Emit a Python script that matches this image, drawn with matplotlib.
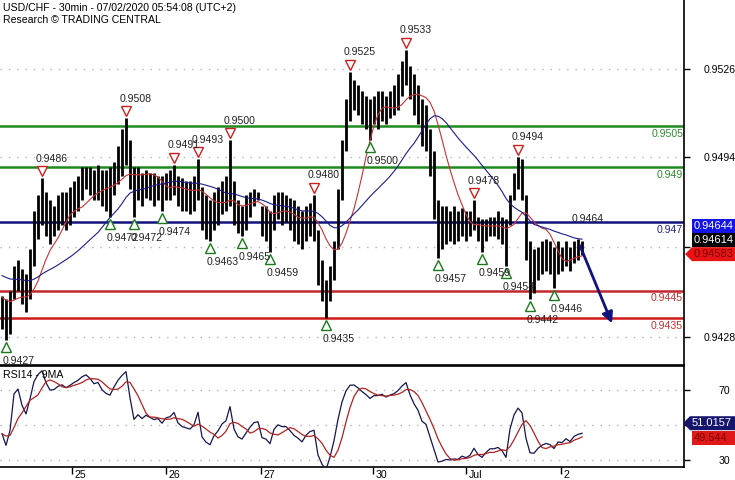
import numpy as np
import pandas as pd
import matplotlib
matplotlib.use("Agg")
import matplotlib.pyplot as plt
import matplotlib.transforms as mtrans
from matplotlib.patches import Polygon

plt.rcParams['font.family'] = ['Liberation Sans', 'DejaVu Sans']

# ---------------- data (hourly bars) ----------------
high = [0.9443, 0.9442, 0.9445, 0.9454, 0.9456, 0.9453, 0.9451, 0.9460, 0.9474, 0.9480,
        0.9486, 0.9481, 0.9478, 0.9476, 0.9480, 0.9481, 0.9481, 0.9483, 0.9485, 0.9487,
        0.9490, 0.9490, 0.9490, 0.9489, 0.9491, 0.9489, 0.9489, 0.9490, 0.9492, 0.9498,
        0.9504, 0.9508, 0.9500, 0.9490, 0.9490, 0.9488, 0.9489, 0.9488, 0.9488, 0.9487,
        0.9487, 0.9488, 0.9489, 0.9491, 0.9487, 0.9486, 0.9485, 0.9485, 0.9487, 0.9493,
        0.9483, 0.9480, 0.9478, 0.9481, 0.9483, 0.9485, 0.9487, 0.9500, 0.9485, 0.9478,
        0.9476, 0.9480, 0.9481, 0.9482, 0.9481, 0.9476, 0.9476, 0.9474, 0.9480, 0.9481,
        0.9481, 0.9480, 0.9479, 0.9478, 0.9476, 0.9474, 0.9476, 0.9477, 0.9480, 0.9467,
        0.9456, 0.9449, 0.9454, 0.9463, 0.9482, 0.9500, 0.9515, 0.9525, 0.9522, 0.9520,
        0.9518, 0.9516, 0.9515, 0.9516, 0.9518, 0.9518, 0.9516, 0.9518, 0.9520, 0.9524,
        0.9529, 0.9533, 0.9527, 0.9524, 0.9520, 0.9515, 0.9513, 0.9504, 0.9496, 0.9478,
        0.9476, 0.9476, 0.9474, 0.9476, 0.9474, 0.9475, 0.9474, 0.9474, 0.9478, 0.9472,
        0.9471, 0.9471, 0.9472, 0.9472, 0.9474, 0.9472, 0.9471, 0.9480, 0.9488, 0.9494,
        0.9493, 0.9480, 0.9463, 0.9460, 0.9461, 0.9463, 0.9464, 0.9463, 0.9461, 0.9463,
        0.9461, 0.9463, 0.9461, 0.9463, 0.9464, 0.9463]
low = [0.9431, 0.9427, 0.9429, 0.9442, 0.9445, 0.9440, 0.9437, 0.9442, 0.9454, 0.9464,
       0.9469, 0.9465, 0.9462, 0.9465, 0.9467, 0.9469, 0.9467, 0.9469, 0.9472, 0.9474,
       0.9478, 0.9482, 0.9480, 0.9478, 0.9478, 0.9476, 0.9474, 0.9472, 0.9480, 0.9484,
       0.9487, 0.9491, 0.9482, 0.9472, 0.9478, 0.9476, 0.9479, 0.9478, 0.9476, 0.9478,
       0.9474, 0.9478, 0.9478, 0.9480, 0.9476, 0.9474, 0.9474, 0.9473, 0.9474, 0.9478,
       0.9467, 0.9464, 0.9463, 0.9467, 0.9469, 0.9473, 0.9474, 0.9476, 0.9469, 0.9466,
       0.9465, 0.9467, 0.9472, 0.9476, 0.9478, 0.9465, 0.9463, 0.9459, 0.9467, 0.9471,
       0.9469, 0.9470, 0.9467, 0.9463, 0.9462, 0.9460, 0.9463, 0.9465, 0.9463, 0.9447,
       0.9441, 0.9435, 0.9441, 0.9449, 0.9460, 0.9478, 0.9496, 0.9507, 0.9511, 0.9509,
       0.9506, 0.9504, 0.9500, 0.9506, 0.9504, 0.9507, 0.9506, 0.9508, 0.9509, 0.9511,
       0.9516, 0.9520, 0.9515, 0.9509, 0.9506, 0.9498, 0.9496, 0.9487, 0.9471, 0.9457,
       0.9460, 0.9462, 0.9463, 0.9462, 0.9463, 0.9465, 0.9463, 0.9465, 0.9467, 0.9463,
       0.9459, 0.9463, 0.9465, 0.9465, 0.9464, 0.9462, 0.9454, 0.9469, 0.9478, 0.9482,
       0.9478, 0.9456, 0.9442, 0.9444, 0.9449, 0.9451, 0.9452, 0.9451, 0.9446, 0.9451,
       0.9452, 0.9454, 0.9452, 0.9455, 0.9456, 0.9458]

# indicator values visible at the left edge of the chart
fast_ma_first = 0.9443
slow_ma_first = 0.9451
rsi_first = 45.0

day_start_bar = [17.5, 41, 64.75, 92.75, 116, 139.75]
day_labels = ['25', '26', '27', '30', 'Jul', '2']

levels = [0.9505, 0.949, 0.947, 0.9445, 0.9435]
level_labels = ['0.9505', '0.949', '0.947', '0.9445', '0.9435']
level_colors = ['#1f8a1f', '#1f8a1f', '#12127e', '#c2262e', '#d01818']
level_text_colors = ['#2e8b2e', '#2e8b2e', '#22228a', '#cc3030', '#cc3030']

pivot_hi_bar = [10, 31, 43, 49, 57, 78, 87, 101, 118, 129]
pivot_hi_val = [0.9486, 0.9508, 0.9491, 0.9493, 0.9500, 0.9480, 0.9525, 0.9533, 0.9478, 0.9494]
pivot_lo_bar = [1, 27, 33, 40, 52, 60, 67, 81, 92, 109, 120, 126, 132, 138]
pivot_lo_val = [0.9427, 0.9472, 0.9472, 0.9474, 0.9463, 0.9465, 0.9459, 0.9435, 0.9500,
                0.9457, 0.9459, 0.9454, 0.9442, 0.9446]
open_hi_bar = 144
open_hi_val = 0.9464

price_ticks = [0.9526, 0.9494, 0.9461, 0.9428]
price_tick_labels = ['0.9526', '0.9494', '', '0.9428']
rsi_ticks = [70, 50, 30]
rsi_tick_labels = ['70', '', '30']

last_close = 0.94614
slow_ma_last = 0.94644
fast_ma_last = 0.94583
rsi_last = 51.0157
rsi_ma_last = 49.544

forecast_bars = 8
forecast_target = 0.9433

title1 = 'USD/CHF - 30min - 07/02/2020 05:54:08 (UTC+2)'
title2 = 'Research \u00a9 TRADING CENTRAL'

# ---------------- indicators ----------------
h = np.array(high)
l = np.array(low)
x = np.arange(len(h))
mid = pd.Series((h + l) / 2)
FAST, SLOW, RSI_N, RSI_MA = 10, 25, 14, 5
fast_ma = pd.concat([pd.Series([fast_ma_first] * FAST), mid], ignore_index=True)
fast_ma = fast_ma.rolling(FAST).mean().iloc[FAST:].reset_index(drop=True)
slow_ma = pd.concat([pd.Series([slow_ma_first] * SLOW), mid], ignore_index=True)
slow_ma = slow_ma.rolling(SLOW).mean().iloc[SLOW:].reset_index(drop=True)

delta = mid.diff().fillna(0)
alpha = 1 / RSI_N
ag, al = [], []
g0 = 0.00006 * rsi_first / 50
l0 = 0.00006 * (100 - rsi_first) / 50
for d in delta:
    g0 = (1 - alpha) * g0 + alpha * max(d, 0)
    l0 = (1 - alpha) * l0 + alpha * max(-d, 0)
    ag.append(g0)
    al.append(l0)
ag = np.array(ag)
al = np.array(al)
rsi = pd.Series(100 - 100 / (1 + ag / al))
rsi_ma = pd.concat([pd.Series([rsi_first] * RSI_MA), rsi], ignore_index=True)
rsi_ma = rsi_ma.rolling(RSI_MA).mean().iloc[RSI_MA:].reset_index(drop=True)

# ---------------- figure ----------------
W, H = 735, 480
fig = plt.figure(figsize=(W / 100, H / 100), dpi=100)
fs = 7.6
ax = fig.add_axes([0, 1 - 365 / H, 684 / W, 365 / H])
rax = fig.add_axes([0, 1 - 467 / H, 684 / W, 101 / H])

xlim = (-0.5, 170.5)
for a in (ax, rax):
    a.set_xlim(*xlim)
    a.spines['left'].set_visible(False)
    a.spines['top'].set_visible(False)
    a.set_facecolor('white')
    for s in ('right', 'bottom'):
        a.spines[s].set_color('black')
        a.spines[s].set_linewidth(1.2)
rax.spines['top'].set_visible(True)
rax.spines['top'].set_linewidth(1.2)

ax.set_ylim(0.941776, 0.955123)
rax.set_ylim(26.0, 83.7)

grid_kw = dict(color='#b4b4b4', linestyle=(0, (1, 5)), lw=1, zorder=0)
for p in price_ticks:
    ax.axhline(p, **grid_kw)
for r in rsi_ticks:
    rax.axhline(r, **grid_kw)

# levels
for v, c in zip(levels, level_colors):
    ax.axhline(v, color=c, lw=1.8, zorder=2)
lab_tr = mtrans.offset_copy(ax.transData, fig=fig, y=-2, units='points')
for v, t, c in zip(levels, level_labels, level_text_colors):
    ax.text(170.3, v, t, color=c, fontsize=fs, ha='right', va='top', transform=lab_tr, zorder=5)

# price bars
ax.vlines(x, l, h, color='black', lw=2.0, zorder=3)
ax.plot(x, fast_ma, color='#c83232', lw=0.8, zorder=4)
ax.plot(x, slow_ma, color='#1c1c8c', lw=0.8, zorder=4)

# pivots
tri_up = mtrans.offset_copy(ax.transData, fig=fig, y=5, units='points')
tri_dn = mtrans.offset_copy(ax.transData, fig=fig, y=-5, units='points')
ax.plot(pivot_hi_bar, pivot_hi_val, linestyle='none', marker='v', ms=7, mfc='white',
        mec='#cc2020', mew=1.0, transform=tri_up, zorder=6)
ax.plot(pivot_lo_bar, pivot_lo_val, linestyle='none', marker='^', ms=7, mfc='white',
        mec='#1a7a1a', mew=1.0, transform=tri_dn, zorder=6)
for b, v in zip(pivot_hi_bar, pivot_hi_val):
    ax.annotate(f'{v:.4f}', (b, v), xytext=(-4.3, 14), textcoords='offset points',
                ha='left', va='center', fontsize=fs, color='#222222', zorder=7)
for b, v in zip(pivot_lo_bar, pivot_lo_val):
    ax.annotate(f'{v:.4f}', (b, v), xytext=(-2.2, -15), textcoords='offset points',
                ha='left', va='center', fontsize=fs, color='#222222', zorder=7)
ax.annotate(f'{open_hi_val:.4f}', (open_hi_bar, open_hi_val), xytext=(-4.3, 14),
            textcoords='offset points', ha='left', va='center', fontsize=fs,
            color='#222222', zorder=7)

# forecast arrow
x_last = x[-1] - 0.5
ax.annotate('', xy=(x_last + forecast_bars, forecast_target), xytext=(x_last, last_close),
            arrowprops=dict(arrowstyle='-|>', color='#12127e', lw=2.0,
                            mutation_scale=16, shrinkA=0, shrinkB=0), zorder=8)

# RSI
rax.plot(x, rsi, color='#15154f', lw=0.9, zorder=3)
rax.plot(x, rsi_ma, color='#b22222', lw=0.9, zorder=4)
rax.text(0.004, 0.96, 'RSI14 - 9MA', transform=rax.transAxes, fontsize=fs,
         ha='left', va='top')

# axes ticks
ax.yaxis.tick_right()
ax.set_yticks(price_ticks)
ax.set_yticklabels(price_tick_labels)
ax.tick_params(axis='y', direction='out', length=4, width=1, pad=10, labelsize=fs)
ax.set_xticks([])
rax.yaxis.tick_right()
rax.set_yticks(rsi_ticks)
rax.set_yticklabels(rsi_tick_labels)
rax.tick_params(axis='y', direction='out', length=4, width=1, pad=21, labelsize=fs)
rax.set_xticks(day_start_bar)
rax.set_xticklabels([])
rax.tick_params(axis='x', direction='out', length=5, width=1)
date_tr = mtrans.offset_copy(rax.get_xaxis_transform(), fig=fig, x=2, y=-2, units='points')
for p, t in zip(day_start_bar, day_labels):
    rax.text(p, 0, t, transform=date_tr, ha='left', va='top', fontsize=fs)

# titles
fig.text(3 / W, 1 - 8 / H, title1, fontsize=fs, ha='left', va='center')
fig.text(3 / W, 1 - 20 / H, title2, fontsize=fs, ha='left', va='center')

fig.canvas.draw()


def value_box(a, value, text, bg, fg, dy=0, arrow=False, x0=692, tip=685):
    y = a.transData.transform((0, value))[1] + dy
    hh = 7
    if arrow:
        pts = [(tip, y), (x0, y + hh), (W, y + hh), (W, y - hh), (x0, y - hh)]
    else:
        pts = [(x0, y + hh), (W, y + hh), (W, y - hh), (x0, y - hh)]
    pts = [(px / W, py / H) for px, py in pts]
    fig.add_artist(Polygon(pts, closed=True, transform=fig.transFigure,
                           facecolor=bg, edgecolor='none', zorder=10))
    fig.text((x0 + 2) / W, y / H, text, color=fg, fontsize=fs + 0.4, ha='left',
             va='center', zorder=11)
    return y


value_box(ax, fast_ma_last, f'{fast_ma_last:.5f}', '#e81414', '#7a0000', dy=0, arrow=True)
value_box(ax, fast_ma_last, f'{last_close:.5f}', '#000000', 'white', dy=14)
value_box(ax, fast_ma_last, f'{slow_ma_last:.5f}', '#1414e6', 'white', dy=28)
value_box(rax, rsi_last, f'{rsi_last:.4f}', '#16166e', 'white', dy=0, arrow=True,
          x0=690, tip=683)
value_box(rax, rsi_last, f'{rsi_ma_last:.3f}', '#e01818', '#7a0000', dy=-15)

fig.savefig('out.png', dpi=100, facecolor='white')
